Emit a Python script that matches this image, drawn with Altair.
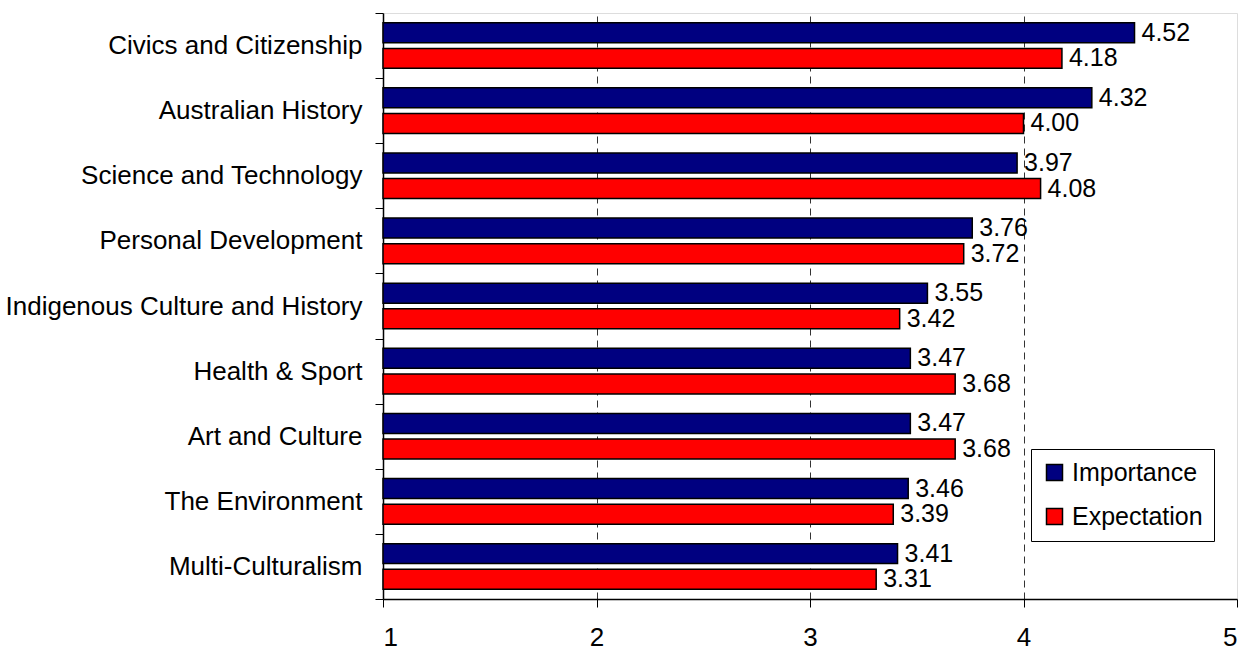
import altair as alt
import pandas as pd

# Survey topics, top to bottom, with mean ratings for each series
categories = [
    "Civics and Citizenship",
    "Australian History",
    "Science and Technology",
    "Personal Development",
    "Indigenous Culture and History",
    "Health & Sport",
    "Art and Culture",
    "The Environment",
    "Multi-Culturalism",
]
importance = [4.52, 4.32, 3.97, 3.76, 3.55, 3.47, 3.47, 3.46, 3.41]
expectation = [4.18, 4.00, 4.08, 3.72, 3.42, 3.68, 3.68, 3.39, 3.31]
series = ["Importance", "Expectation"]
series_colors = ["#000080", "#ff0000"]
x_ticks = [1, 2, 3, 4, 5]

rows = []
for topic, imp, exp in zip(categories, importance, expectation):
    rows.append({"topic": topic, "series": "Importance", "score": imp})
    rows.append({"topic": topic, "series": "Expectation", "score": exp})
df = pd.DataFrame(rows)

FONT = "Liberation Sans"
FS = 25
AXIS_FS = 26

x_scale = alt.Scale(domain=[1, 5], zero=False, nice=False)

y_enc = alt.Y(
    "topic:N",
    sort=categories,
    scale=alt.Scale(paddingInner=0, paddingOuter=0),
    axis=alt.Axis(
        title=None,
        tickBand="extent",
        tickSize=8,
        tickColor="black",
        domainColor="black",
        domainWidth=1.5,
        labelFont=FONT,
        labelFontSize=AXIS_FS,
        labelColor="black",
        labelPadding=13,
        labelLimit=500,
        grid=False,
    ),
)
yoff_enc = alt.YOffset(
    "series:N",
    sort=series,
    scale=alt.Scale(domain=series, paddingInner=0.22, paddingOuter=0.38),
)

base = alt.Chart(df).encode(y=y_enc, yOffset=yoff_enc)

bars = base.mark_bar(stroke="black", strokeWidth=1.5, opacity=1).encode(
    x=alt.X(
        "score:Q",
        scale=x_scale,
        axis=alt.Axis(
            title=None,
            values=x_ticks,
            format="d",
            tickSize=8,
            tickColor="black",
            domainColor="black",
            domainWidth=1.5,
            labelFont=FONT,
            labelFontSize=AXIS_FS,
            labelColor="black",
            labelPadding=17,
            grid=True,
            gridColor="#333333",
            gridDash=[7, 5],
            gridWidth=1,
            gridOpacity={
                "condition": {"test": "datum.value == 1 || datum.value == 5", "value": 0},
                "value": 1,
            },
        ),
    ),
    x2=alt.datum(1),
    color=alt.Color(
        "series:N",
        sort=series,
        scale=alt.Scale(domain=series, range=series_colors),
        legend=alt.Legend(
            title=None,
            orient="none",
            legendX=648,
            legendY=436,
            direction="vertical",
            symbolType="square",
            symbolSize=256,
            symbolStrokeColor="black",
            symbolStrokeWidth=1.5,
            symbolOpacity=1,
            labelFont=FONT,
            labelFontSize=FS,
            labelColor="black",
            labelOffset=5,
            labelLimit=300,
            padding=11,
            rowPadding=18,
            strokeColor="black",
            fillColor="white",
            cornerRadius=0,
        ),
    ),
)

labels = base.mark_text(
    align="left", baseline="middle", dx=7, font=FONT, fontSize=FS, color="black"
).encode(
    x=alt.X("score:Q", scale=x_scale),
    text=alt.Text("score:Q", format=".2f"),
)

chart = (
    alt.layer(bars, labels)
    .properties(
        width=854,
        height=586,
        autosize=alt.AutoSizeParams(type="none"),
        padding={"left": 383, "top": 13, "right": 13, "bottom": 47},
    )
    .configure_view(stroke="#808080", strokeWidth=1)
    .configure(background="white")
)

chart.save("out.html", embed_options={"renderer": "svg", "actions": False})
